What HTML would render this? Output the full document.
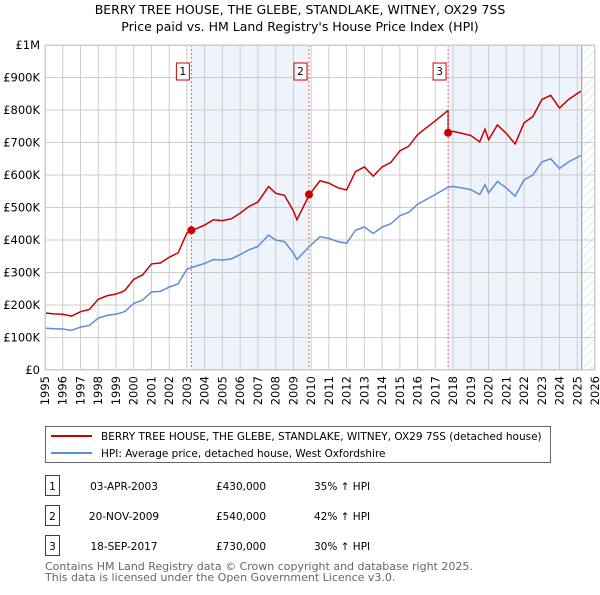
<!DOCTYPE html>
<html><head><meta charset="utf-8"><style>
body{margin:0;background:#fff;font-family:"Liberation Sans","DejaVu Sans",sans-serif;}
svg text{font-family:"DejaVu Sans","Liberation Sans",sans-serif;}
</style></head><body>
<svg id="c" width="600" height="590" viewBox="0 0 600 590" xmlns="http://www.w3.org/2000/svg">
<text x="300" y="14" text-anchor="middle" font-size="12.5" fill="#000">BERRY TREE HOUSE, THE GLEBE, STANDLAKE, WITNEY, OX29 7SS</text>
<text x="300" y="31" text-anchor="middle" font-size="12.5" fill="#000">Price paid vs. HM Land Registry's House Price Index (HPI)</text>
<g id="plot"></g>
<g>
<rect x="45.5" y="426.5" width="505" height="36" fill="#fff" stroke="#666"/>
<line x1="51" y1="436" x2="92" y2="436" stroke="#cc0000" stroke-width="2"/>
<text x="101" y="440" font-size="10.5">BERRY TREE HOUSE, THE GLEBE, STANDLAKE, WITNEY, OX29 7SS (detached house)</text>
<line x1="51" y1="453" x2="92" y2="453" stroke="#5b8fd4" stroke-width="2"/>
<text x="101" y="457" font-size="10.5">HPI: Average price, detached house, West Oxfordshire</text>
</g>
<g id="tbl" font-size="10.5"></g>
<text x="45" y="570" font-size="11" fill="#666">Contains HM Land Registry data © Crown copyright and database right 2025.</text>
<text x="45" y="581" font-size="11" fill="#666">This data is licensed under the Open Government Licence v3.0.</text>
</svg>
<script>
const hpiYears=[1995,1995.5,1996,1996.5,1997,1997.5,1998,1998.5,1999,1999.3,1999.5,2000,2000.5,2001,2001.5,2002,2002.5,2003,2003.25,2004,2004.5,2005,2005.5,2006,2006.5,2007,2007.6,2008,2008.5,2009,2009.2,2009.9,2010.5,2011,2011.5,2012,2012.5,2013,2013.5,2014,2014.5,2015,2015.5,2016,2016.5,2017,2017.7,2018,2018.5,2019,2019.5,2019.8,2020,2020.5,2021,2021.5,2022,2022.5,2023,2023.5,2024,2024.5,2025.2];
const hpiValues=[129,127,126,122,132,137,160,168,172,176,180,205,215,240,242,255,265,310,315,328,340,338,342,355,370,380,415,400,395,360,340,380,410,405,395,390,430,440,420,440,450,475,485,510,525,540,562,565,560,555,540,570,545,580,560,535,585,600,640,650,620,640,660];
const sales=[{t:2003.25,v:430},{t:2009.88,v:540},{t:2017.72,v:730}];
const saleLabels=["1","2","3"];
const saleDates=["03-APR-2003","20-NOV-2009","18-SEP-2017"];
const salePrices=["£430,000","£540,000","£730,000"];
const saleHpi=["35% ↑ HPI","42% ↑ HPI","30% ↑ HPI"];
const yTicks=[0,100,200,300,400,500,600,700,800,900,1000];
const yTickLabels=["£0","£100K","£200K","£300K","£400K","£500K","£600K","£700K","£800K","£900K","£1M"];
const X0=45,X1=595,Y0=370,Y1=45;
const xs=t=>X0+(t-1995)/31*(X1-X0);
const ys=v=>Y0-v/1000*(Y0-Y1);
const NS="http://www.w3.org/2000/svg";
const g=document.getElementById('plot');
function mk(tag,a,p){const e=document.createElementNS(NS,tag);for(const k in a)e.setAttribute(k,a[k]);(p||g).appendChild(e);return e;}
let r=mk('rect',{x:xs(sales[0].t),y:Y1,width:xs(sales[1].t)-xs(sales[0].t),height:Y0-Y1,fill:'#eef3fc'});


r=mk('rect',{x:xs(sales[2].t),y:Y1,width:xs(2025.25)-xs(sales[2].t),height:Y0-Y1,fill:'#eef3fc'});


const defs=mk('defs',{});
const pat=mk('pattern',{id:'h',width:6,height:6,patternUnits:'userSpaceOnUse',patternTransform:'rotate(45)'},defs);
mk('line',{x1:0,y1:0,x2:0,y2:6,stroke:'#ccc','stroke-width':1},pat);
r=mk('rect',{x:xs(2025.25),y:Y1,width:X1-xs(2025.25),height:Y0-Y1,fill:'url(#h)'});


for(let y=1995;y<=2026;y++){
 const x=xs(y);
 mk('line',{x1:x,y1:Y1,x2:x,y2:Y0,stroke:'#ccc','stroke-width':1});
 const t=mk('text',{x:0,y:0,'font-size':11.5,'text-anchor':'end',transform:`translate(${x+4},${Y0+6}) rotate(-90)`});
 t.textContent=y;
 
 
}
yTicks.forEach((v,i)=>{
 mk('line',{x1:X0,y1:ys(v),x2:X1,y2:ys(v),stroke:'#ccc','stroke-width':1});
 const t=mk('text',{x:X0-5,y:ys(v)+4,'font-size':11.5,'text-anchor':'end'});
 t.textContent=yTickLabels[i];
 
 
});
mk('line',{x1:xs(2025.25),y1:Y1,x2:xs(2025.25),y2:Y0,stroke:'#999','stroke-width':1});
function factor(t){if(t<sales[1].t)return 1.36;if(t<sales[2].t)return 1.42;return 1.30;}
let hp=[],rp=[];
hpiYears.forEach((t,i)=>{hp.push(xs(t)+','+ys(hpiValues[i]));});
hpiYears.forEach((t,i)=>{
 if(i>0&&hpiYears[i-1]<sales[2].t&&t>sales[2].t){rp.push(xs(sales[2].t)+','+ys(hpiValues[i-1]*1.42));rp.push(xs(sales[2].t)+','+ys(sales[2].v));}
 rp.push(xs(t)+','+ys(hpiValues[i]*factor(t)));
});
let p=mk('polyline',{points:hp.join(' '),fill:'none',stroke:'#5b8fd4','stroke-width':1.5});


p=mk('polyline',{points:rp.join(' '),fill:'none',stroke:'#cc0000','stroke-width':1.5});


sales.forEach((s,i)=>{
 const x=xs(s.t);
 mk('line',{x1:x,y1:Y1,x2:x,y2:Y0,stroke:'#f06060','stroke-width':1,'stroke-dasharray':'2,2'});
 const c=mk('circle',{cx:x,cy:ys(s.v),r:4,fill:'#cc0000'});
 
 
 mk('rect',{x:x-15,y:63,width:13,height:17,fill:'#fff',stroke:'#cc0000'});
 const t=mk('text',{x:x-8.5,y:75,'font-size':10.5,'text-anchor':'middle'});
 t.textContent=saleLabels[i];
 
 
});
mk('rect',{x:X0+0.5,y:Y1+0.5,width:X1-X0-1,height:Y0-Y1-1,fill:'none',stroke:'#ccc'});
const tb=document.getElementById('tbl');
const rowY=[475,505,535];
saleLabels.forEach((l,i)=>{
 const y=rowY[i];
 mk('rect',{x:45.5,y:y+0.5,width:14,height:20,fill:'#fff',stroke:'#cc0000'},tb);
 let t=mk('text',{x:52.5,y:y+15,'text-anchor':'middle'},tb);t.textContent=l;
 
 
 t=mk('text',{x:124,y:y+15,'text-anchor':'middle'},tb);t.textContent=saleDates[i];
 
 
 t=mk('text',{x:241,y:y+15,'text-anchor':'middle'},tb);t.textContent=salePrices[i];
 
 
 t=mk('text',{x:314,y:y+15},tb);t.textContent=saleHpi[i];
 
 
});
</script>
</body></html>
